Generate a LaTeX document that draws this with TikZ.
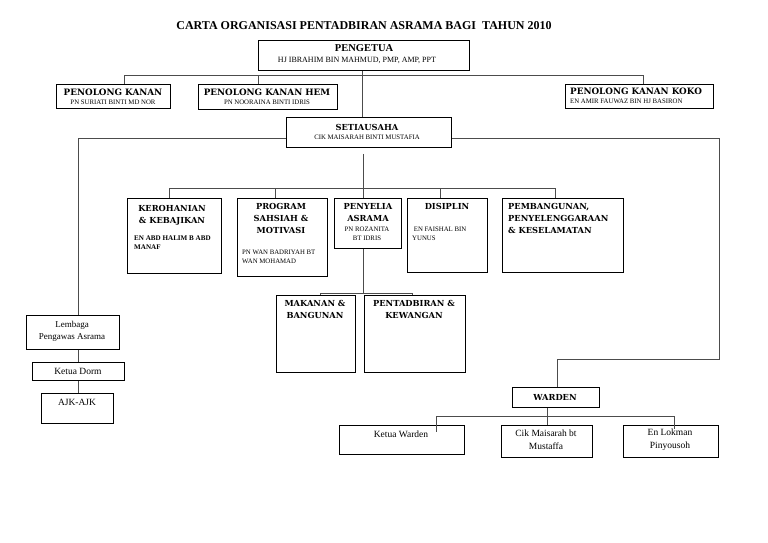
\documentclass[tikz,border=0pt]{standalone}
\usepackage{fontspec}
\setmainfont{Liberation Serif}
\newfontfamily\hdfont{DejaVu Serif}
\begin{document}
\begin{tikzpicture}[x=1pt,y=-1pt,
  box/.style={draw=black, line width=0.8pt, fill=white, inner sep=0pt, anchor=north west},
  ln/.style={draw=black!70, line width=0.7pt},
  ttl/.style={font=\bfseries\fontsize{12}{14}\selectfont, inner sep=0pt},
  hd/.style={font=\hdfont\bfseries\fontsize{8.3}{12.3}\selectfont, inner sep=0pt, align=center},
  hdl/.style={hd, align=left, anchor=north west},
  hdb/.style={font=\hdfont\bfseries\fontsize{8.8}{11}\selectfont, inner sep=0pt},
  nm/.style={font=\fontsize{6.8}{9}\selectfont, inner sep=0pt, align=center},
  nmb/.style={font=\bfseries\fontsize{7.1}{8.5}\selectfont, inner sep=0pt, align=left, anchor=north west},
  tx/.style={font=\fontsize{9.5}{13}\selectfont, inner sep=0pt, align=center}]
\useasboundingbox (0,0) rectangle (768,543);
\fill[white] (0,0) rectangle (768,543);
% ---- boxes
\node[box, minimum width=211pt, minimum height=30pt] (peng) at (258,40) {};
\node[box, minimum width=114pt, minimum height=24pt] (pk) at (56,84) {};
\node[box, minimum width=139pt, minimum height=25pt] (pkh) at (198,84) {};
\node[box, minimum width=148pt, minimum height=24pt] (koko) at (565,84) {};
\node[box, minimum width=165pt, minimum height=30pt] (setia) at (286,117) {};
\node[box, minimum width=94pt, minimum height=75pt] (ker) at (127,198) {};
\node[box, minimum width=90pt, minimum height=78pt] (prog) at (237,198) {};
\node[box, minimum width=67pt, minimum height=50pt] (peny) at (334,198) {};
\node[box, minimum width=80pt, minimum height=74pt] (dis) at (407,198) {};
\node[box, minimum width=121pt, minimum height=74pt] (pem) at (502,198) {};
\node[box, minimum width=79pt, minimum height=77pt] (mak) at (276,295) {};
\node[box, minimum width=101pt, minimum height=77pt] (pent) at (364,295) {};
\node[box, minimum width=93pt, minimum height=34pt] (lem) at (26,315) {};
\node[box, minimum width=92pt, minimum height=18pt] (dorm) at (32,362) {};
\node[box, minimum width=72pt, minimum height=30pt] (ajk) at (41,393) {};
\node[box, minimum width=87pt, minimum height=20pt] (warden) at (512,387) {};
\node[box, minimum width=125pt, minimum height=29pt] (kw) at (339,425) {};
\node[box, minimum width=91pt, minimum height=32pt] (cik) at (501,425) {};
\node[box, minimum width=95pt, minimum height=32pt] (lok) at (623,425) {};
% ---- texts
\node[ttl] (title) at (364,26) {CARTA ORGANISASI PENTADBIRAN ASRAMA BAGI\ \ TAHUN 2010};
\node[font=\bfseries\fontsize{10.5}{12}\selectfont, inner sep=0pt] (pengh) at (364,48) {PENGETUA};
\node[nm, font=\fontsize{8}{9}\selectfont] (pengn) at (357,60) {HJ IBRAHIM BIN MAHMUD, PMP, AMP, PPT};
\node[hdb] (pkt) at (113,92) {PENOLONG KANAN};
\node[nm] (pkn) at (113,102) {PN SURIATI BINTI MD NOR};
\node[hdb] (pkht) at (267,92) {PENOLONG KANAN HEM};
\node[nm] (pkhn) at (267,102) {PN NOORAINA BINTI IDRIS};
\node[hdb, anchor=west] (kokot) at (570,91) {PENOLONG KANAN KOKO};
\node[nm, anchor=west] (kokon) at (570,101) {EN AMIR FAUWAZ BIN HJ BASIRON};
\node[hd] (setiat) at (367,127) {SETIAUSAHA};
\node[nm] (setian) at (367,137) {CIK MAISARAH BINTI MUSTAFIA};
\node[hd, anchor=north] (kert) at (172,205) {KEROHANIAN\\\& KEBAJIKAN};
\node[nmb] (kern) at (134,236) {EN ABD HALIM B ABD\\MANAF};
\node[hd, anchor=north] (progt) at (281,203) {PROGRAM\\SAHSIAH \&\\MOTIVASI};
\node[nm, align=left, anchor=north west] (progn) at (242,250) {PN WAN BADRIYAH BT\\WAN MOHAMAD};
\node[hd, anchor=north] (penyt) at (368,203) {PENYELIA\\ASRAMA};
\node[nm, anchor=north] (penyn) at (367,227) {PN ROZANITA\\BT IDRIS};
\node[hd, anchor=north] (dist) at (447,203) {DISIPLIN};
\node[nm, align=left, anchor=north west] (disn) at (412,227) {\ EN FAISHAL BIN\\YUNUS};
\node[hdl] (pemt) at (508,203) {PEMBANGUNAN,\\PENYELENGGARAAN\\\& KESELAMATAN};
\node[hd, anchor=north] (makt) at (315,300) {MAKANAN \&\\BANGUNAN};
\node[hd, anchor=north] (pentt) at (414,300) {PENTADBIRAN \&\\KEWANGAN};
\node[tx, font=\fontsize{9}{12}\selectfont] (lemt) at (72,331) {Lembaga\\Pengawas Asrama};
\node[tx] (dormt) at (78,371) {Ketua Dorm};
\node[tx] (ajkt) at (77,402) {AJK-AJK};
\node[hd] (wardent) at (555,397) {WARDEN};
\node[tx] (kwt) at (401,434) {Ketua Warden};
\node[tx] (cikt) at (546,440) {Cik Maisarah bt\\Mustaffa};
\node[tx] (lokt) at (670,440) {En Lokman\\Pinyousoh};
% ---- connectors
\coordinate (h1l) at (124,75);
\coordinate (h1m) at (258,75);
\coordinate (h1r) at (643,75);
\coordinate (h1c) at (362,75);
\draw[ln] (h1c |- peng.south) -- (h1c |- setia.north);
\draw[ln] (h1l) -- (h1r);
\draw[ln] (h1l) -- (h1l |- pk.north);
\draw[ln] (h1m) -- (h1m |- pkh.north);
\draw[ln] (h1r) -- (h1r |- koko.north);
\coordinate (h2l) at (78,138);
\coordinate (h2r) at (719,138);
\draw[ln] (h2l) -- (setia.west |- h2l);
\draw[ln] (setia.east |- h2r) -- (h2r);
\draw[ln] (h2l) -- (h2l |- lem.north);
\draw[ln] (h2l |- lem.south) -- (h2l |- dorm.north);
\draw[ln] (h2l |- dorm.south) -- (h2l |- ajk.north);
\coordinate (rc) at (719,359);
\coordinate (wc) at (557,359);
\draw[ln] (h2r) -- (rc) -- (wc) -- (wc |- warden.north);
\coordinate (h3c) at (363,188);
\coordinate (v1) at (169,188);
\coordinate (v2) at (275,188);
\coordinate (v4) at (440,188);
\coordinate (v5) at (555,188);
\draw[ln] ([yshift=-6pt]h3c |- setia.south) -- (h3c);
\draw[ln] (v1) -- (v5);
\draw[ln] (v1) -- (v1 |- ker.north);
\draw[ln] (v2) -- (v2 |- prog.north);
\draw[ln] (h3c) -- (h3c |- peny.north);
\draw[ln] (v4) -- (v4 |- dis.north);
\draw[ln] (v5) -- (v5 |- pem.north);
\coordinate (h4c) at (363,293);
\coordinate (h4l) at (320,293);
\coordinate (h4r) at (412,293);
\draw[ln] (h4c |- peny.south) -- (h4c);
\draw[ln] (h4l) -- (h4r);
\draw[ln] (h4l) -- (h4l |- mak.north);
\draw[ln] (h4r) -- (h4r |- pent.north);
\coordinate (wl) at (436,416);
\coordinate (wr) at (674,416);
\draw[ln] (wl) -- (wr);
\draw[ln] (wl) -- ([yshift=-7pt]wl |- kw.north);
\draw[ln] (cik.north |- warden.south) -- (cik.north);
\draw[ln] (wr) -- ([yshift=-4pt]wr |- lok.north);
\end{tikzpicture}
\end{document}
